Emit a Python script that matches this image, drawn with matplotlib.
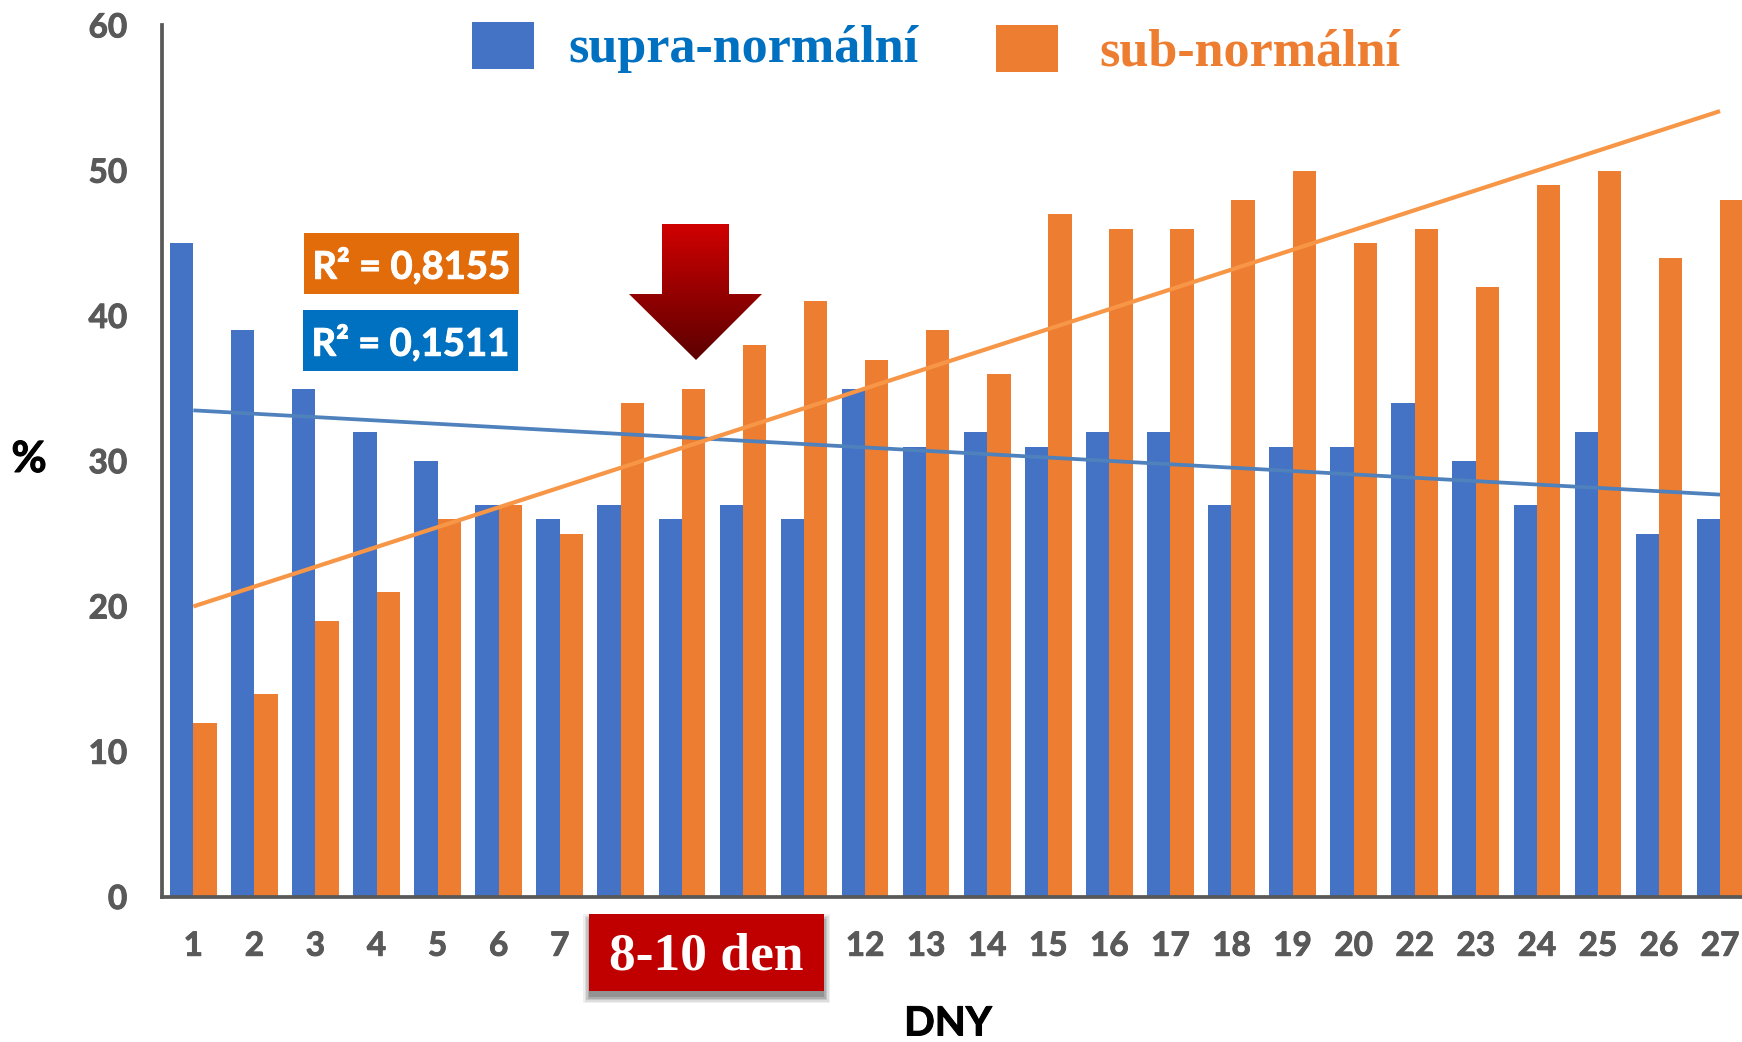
import numpy as np
import matplotlib
matplotlib.use('Agg')
import matplotlib.pyplot as plt
import matplotlib.patheffects as pe
from matplotlib.patches import Polygon, Rectangle

W, H = 1742, 1042

# hidden labels 8-11 sit behind the red box in the original
day_labels = ['1', '2', '3', '4', '5', '6', '7', '', '', '', '', '12', '13', '14',
              '15', '16', '17', '18', '19', '20', '22', '23', '24', '25', '26', '27']
supra = [45, 39, 35, 32, 30, 27, 26, 27, 26, 27, 26, 35, 31,
         32, 31, 32, 32, 27, 31, 31, 34, 30, 27, 32, 25, 26]
sub = [12, 14, 19, 21, 26, 27, 25, 34, 35, 38, 41, 37, 39,
       36, 47, 46, 46, 48, 50, 45, 46, 42, 49, 50, 44, 48]
supra_trend = [33.5, 27.7]
sub_trend = [20.0, 54.1]
y_ticks = [0, 10, 20, 30, 40, 50, 60]

BLUE = '#4472C4'
ORANGE = '#ED7D31'
GREY = '#595959'
SANS = 'Lato'
SERIF = 'Liberation Serif'


def thicken(txt, color, w=0.7):
    # Lato bold is a bit lighter than the reference face
    txt.set_path_effects([pe.withStroke(linewidth=w, foreground=color)])


fig = plt.figure(figsize=(W / 100, H / 100), dpi=100)

# main axes, placed to the pixel
left, right, top, bottom = 162, W, 25.4, 897
ax = fig.add_axes([left / W, 1 - bottom / H, (right - left) / W, (bottom - top) / H])
x = np.arange(len(day_labels))
bw = 0.382
ax.bar(x - bw / 2, supra, bw, color=BLUE)
ax.bar(x + bw / 2, sub, bw, color=ORANGE)
ax.plot([x[0], x[-1]], supra_trend, color='#4F81BD', lw=2.7, solid_capstyle='butt')
ax.plot([x[0], x[-1]], sub_trend, color='#F79646', lw=3.0, solid_capstyle='butt')

ax.set_xlim((left - 193.3) / 61.07, (right - 193.3) / 61.07)
ax.set_ylim(0, 60)
ax.set_xticks(x)
ax.set_xticklabels(day_labels)
ax.set_yticks(y_ticks)
ax.tick_params(length=0, colors=GREY, labelsize=24)
ax.tick_params(axis='x', pad=25)
ax.tick_params(axis='y', pad=25)
for lab in ax.get_xticklabels() + ax.get_yticklabels():
    lab.set_fontfamily(SANS)
    lab.set_fontweight('bold')
    thicken(lab, GREY)
ax.spines['top'].set_visible(False)
ax.spines['right'].set_visible(False)
ax.spines['left'].set_color(GREY)
ax.spines['bottom'].set_color(GREY)
ax.spines['left'].set_linewidth(2.7)
ax.spines['bottom'].set_linewidth(2.7)

# overlay in image pixels for the pasted-on shapes and labels
ov = fig.add_axes([0, 0, 1, 1], zorder=5)
ov.set_xlim(0, W)
ov.set_ylim(H, 0)
ov.axis('off')
ov.patch.set_alpha(0)

# legend
ov.add_patch(Rectangle((472, 22), 62, 47, color=BLUE, lw=0))
ov.add_patch(Rectangle((996, 25), 62, 47, color=ORANGE, lw=0))
ov.text(568, 62, 'supra-normální', color='#0070C0', family=SERIF, weight='bold',
        fontsize=37.5, va='baseline')
ov.text(1099, 65, 'sub-normální', color=ORANGE, family=SERIF, weight='bold',
        fontsize=37.5, va='baseline')

# R2 boxes
ov.add_patch(Rectangle((304, 233), 215, 61, color='#E36C0A', lw=0))
ov.add_patch(Rectangle((303, 310), 215, 61, color='#0070C0', lw=0))
t = ov.text(411.5, 266, 'R² = 0,8155', color='white', family=SANS, weight='bold',
            fontsize=27.5, ha='center', va='center')
thicken(t, 'white')
t = ov.text(410.5, 343, 'R² = 0,1511', color='white', family=SANS, weight='bold',
            fontsize=27.5, ha='center', va='center')
thicken(t, 'white')

# arrow with red gradient
arrow = Polygon([(662, 224), (729, 224), (729, 294), (762, 294), (696, 360),
                 (629, 294), (662, 294)], closed=True, fc='none', ec='none',
                transform=ov.transData)
ov.add_patch(arrow)
grad = np.linspace(0, 1, 140).reshape(-1, 1)
cmap = matplotlib.colors.LinearSegmentedColormap.from_list('red', ['#D00000', '#5C0000'])
im = ov.imshow(grad, extent=(629, 762, 360, 224), cmap=cmap, aspect='auto', zorder=3)
im.set_clip_path(arrow)
ov.set_xlim(0, W)
ov.set_ylim(H, 0)

# red box with soft shadow, mostly below it
for grow, a in [(6, 0.06), (4.5, 0.08), (3, 0.1), (1.5, 0.12), (0, 0.15)]:
    ov.add_patch(Rectangle((589 - grow, 914 + 6 - grow), 235 + 2 * grow,
                           77 + 2 * grow, color='black', alpha=a, lw=0, zorder=3))
ov.add_patch(Rectangle((589, 914), 235, 77, color='#C00000', lw=0, zorder=4))
ov.text(706, 957, '8-10 den', color='white', family=SERIF, weight='bold',
        fontsize=38.5, ha='center', va='center', zorder=5)

# axis titles
t = ov.text(29, 459, '%', color='black', family=SANS, weight='bold', fontsize=31,
            ha='center', va='center')
thicken(t, 'black')
t = ov.text(948, 1024, 'DNY', color='black', family=SANS, weight='bold', fontsize=29,
            ha='center', va='center')
thicken(t, 'black')

fig.savefig('out.png', dpi=100)
